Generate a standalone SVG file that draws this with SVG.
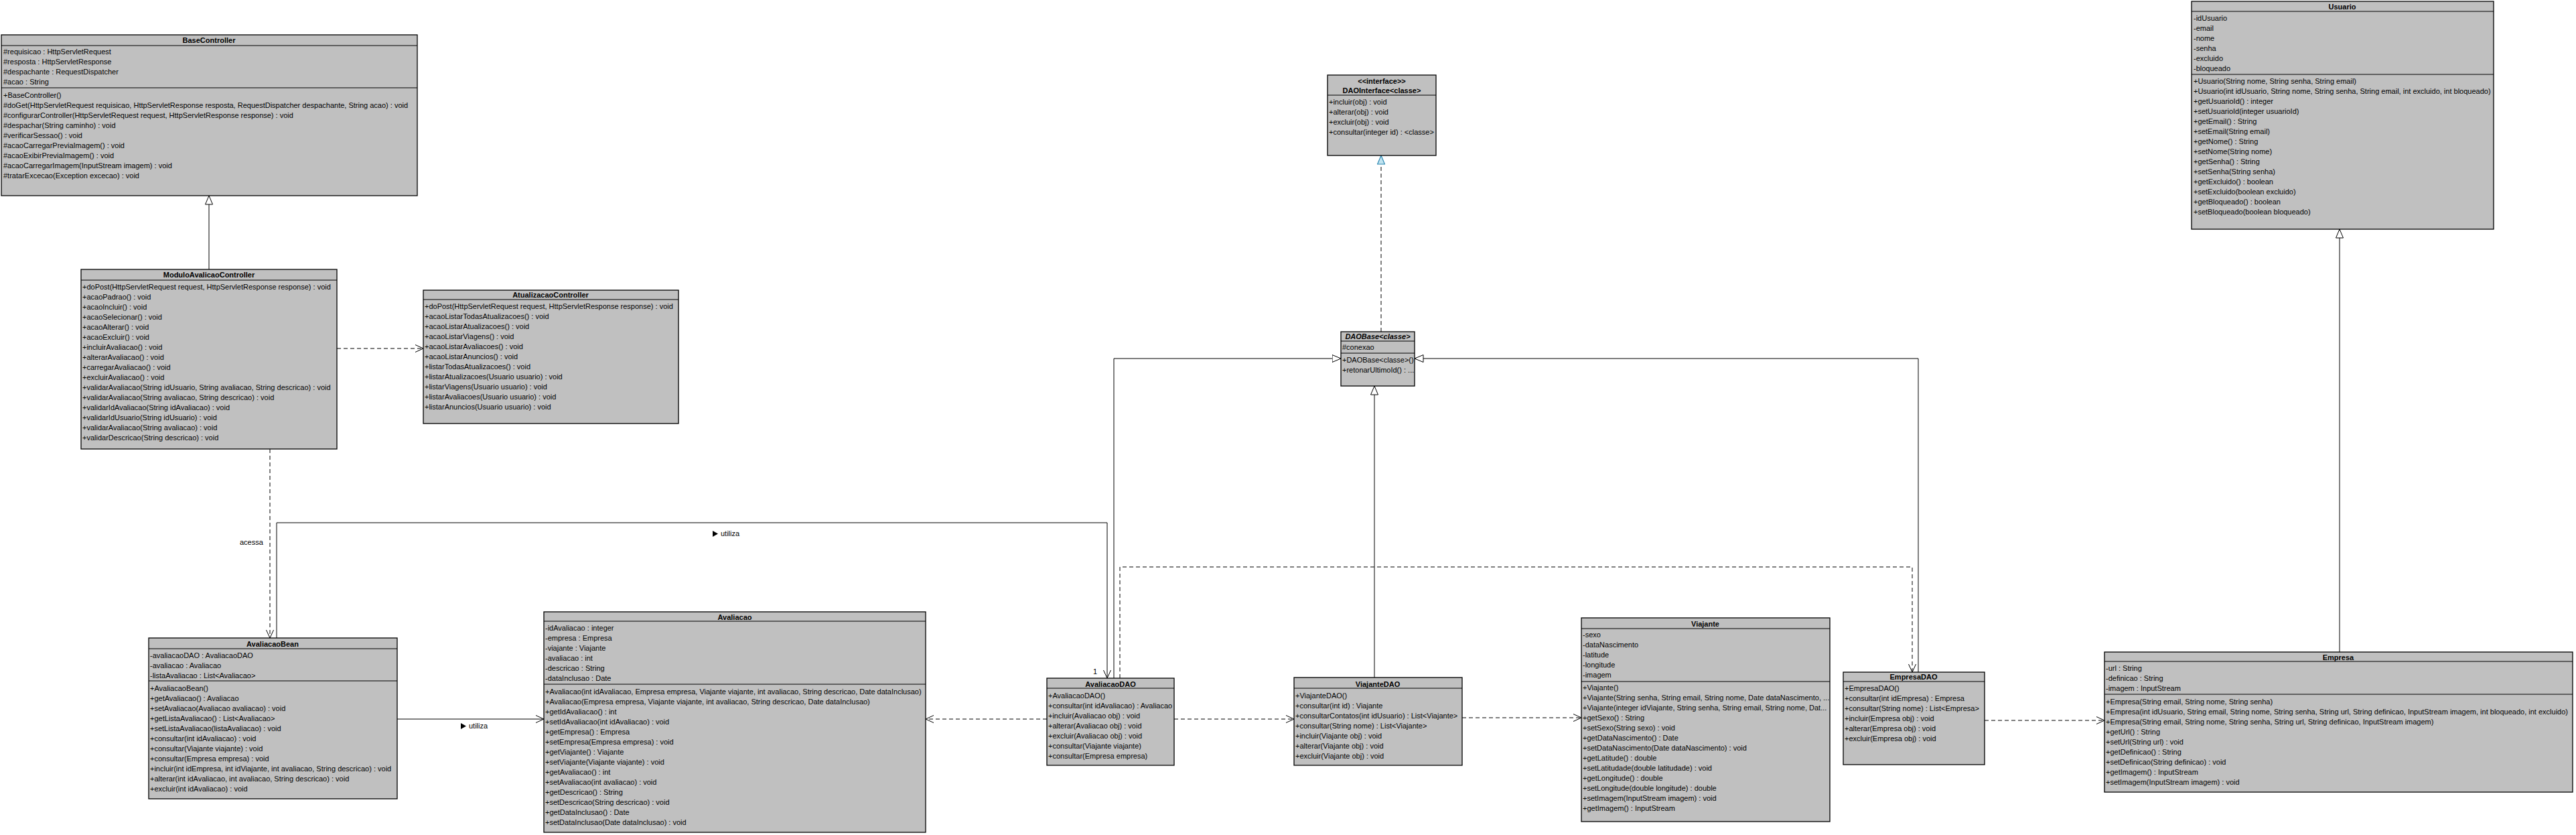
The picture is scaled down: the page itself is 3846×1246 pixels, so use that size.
<svg xmlns="http://www.w3.org/2000/svg" width="3846" height="1246" viewBox="0 0 3846 1246">
<style>
.box{fill:#C0C0C0;stroke:#000;stroke-width:1.3}
.sep{stroke:#000;stroke-width:1.2;fill:none}
text{font-family:"Liberation Sans",Arial,sans-serif;font-size:11px;fill:#000}
.ti{font-weight:bold;text-anchor:middle}
.it{font-style:italic}
.ln{stroke:#000;stroke-width:1;fill:none}
.da{stroke-dasharray:6 4}
</style>
<defs>
<marker id="open" viewBox="0 0 12 12" refX="12" refY="6" markerWidth="12" markerHeight="12" markerUnits="userSpaceOnUse" orient="auto"><path d="M0,0.5 L12,6 L0,11.5" fill="none" stroke="#000" stroke-width="1"/></marker>
<marker id="tri" viewBox="0 0 14 12" refX="13.5" refY="6" markerWidth="14" markerHeight="12" markerUnits="userSpaceOnUse" orient="auto"><path d="M0.5,0.5 L13.5,6 L0.5,11.5 Z" fill="#fff" stroke="#000" stroke-width="1"/></marker>
<marker id="real" viewBox="0 0 14 12" refX="13.5" refY="6" markerWidth="14" markerHeight="12" markerUnits="userSpaceOnUse" orient="auto"><path d="M0.5,0.5 L13.5,6 L0.5,11.5 Z" fill="#BFE3F0" stroke="#2A86B0" stroke-width="1.2"/></marker>
</defs>
<rect width="3846" height="1246" fill="#fff"/>

<g id="connectors">
<path class="ln" d="M312,402 V292" marker-end="url(#tri)"/>
<path class="ln da" d="M503,520 H632" marker-end="url(#open)"/>
<path class="ln da" d="M403,670 V952" marker-end="url(#open)"/>
<text x="358" y="813">acessa</text>
<path class="ln" d="M413,952 V780 H1653 V1012" marker-end="url(#open)"/>
<polygon points="1064,792 1072,796.5 1064,801" fill="#000"/>
<text x="1076" y="800">utiliza</text>
<text x="1632" y="1006">1</text>
<path class="ln" d="M593,1073 H812" marker-end="url(#open)"/>
<polygon points="688,1079 696,1083.5 688,1088" fill="#000"/>
<text x="700" y="1087">utiliza</text>
<path class="ln da" d="M1563,1073 H1382" marker-end="url(#open)"/>
<path class="ln da" d="M1753,1073 H1932" marker-end="url(#open)"/>
<path class="ln da" d="M2183,1071 H2361" marker-end="url(#open)"/>
<path class="ln da" d="M2963,1075 H3142" marker-end="url(#open)"/>
<path class="ln" d="M1663,1012 V535 H2002" marker-end="url(#tri)"/>
<path class="ln" d="M2052,1011 V576" marker-end="url(#tri)"/>
<path class="ln" d="M2864,1003 V535 H2112" marker-end="url(#tri)"/>
<path class="ln da" d="M2062,495 V232" marker-end="url(#real)"/>
<path class="ln" d="M3493,973 V342" marker-end="url(#tri)"/>
<path class="ln da" d="M1672,1012 V846 H2855 V1003" marker-end="url(#open)"/>
</g>

<g id="BaseController">
<rect class="box" x="2" y="52" width="621" height="240"/>
<path class="sep" d="M2,68 H623 M2,131 H623"/>
<text class="ti" x="312" y="64">BaseController</text>
<text x="5" y="81">#requisicao : HttpServletRequest</text>
<text x="5" y="96">#resposta : HttpServletResponse</text>
<text x="5" y="111">#despachante : RequestDispatcher</text>
<text x="5" y="126">#acao : String</text>
<text x="5" y="146">+BaseController()</text>
<text x="5" y="161">#doGet(HttpServletRequest requisicao, HttpServletResponse resposta, RequestDispatcher despachante, String acao) : void</text>
<text x="5" y="176">#configurarController(HttpServletRequest request, HttpServletResponse response) : void</text>
<text x="5" y="191">#despachar(String caminho) : void</text>
<text x="5" y="206">#verificarSessao() : void</text>
<text x="5" y="221">#acaoCarregarPreviaImagem() : void</text>
<text x="5" y="236">#acaoExibirPreviaImagem() : void</text>
<text x="5" y="251">#acaoCarregarImagem(InputStream imagem) : void</text>
<text x="5" y="266">#tratarExcecao(Exception excecao) : void</text>
</g>

<g id="Usuario">
<rect class="box" x="3272" y="2" width="451" height="340"/>
<path class="sep" d="M3272,17 H3723 M3272,111 H3723"/>
<text class="ti" x="3497" y="14">Usuario</text>
<text x="3275" y="31">-idUsuario</text>
<text x="3275" y="46">-email</text>
<text x="3275" y="61">-nome</text>
<text x="3275" y="76">-senha</text>
<text x="3275" y="91">-excluido</text>
<text x="3275" y="106">-bloqueado</text>
<text x="3275" y="125">+Usuario(String nome, String senha, String email)</text>
<text x="3275" y="140">+Usuario(int idUsuario, String nome, String senha, String email, int excluido, int bloqueado)</text>
<text x="3275" y="155">+getUsuarioId() : integer</text>
<text x="3275" y="170">+setUsuarioId(integer usuarioId)</text>
<text x="3275" y="185">+getEmail() : String</text>
<text x="3275" y="200">+setEmail(String email)</text>
<text x="3275" y="215">+getNome() : String</text>
<text x="3275" y="230">+setNome(String nome)</text>
<text x="3275" y="245">+getSenha() : String</text>
<text x="3275" y="260">+setSenha(String senha)</text>
<text x="3275" y="275">+getExcluido() : boolean</text>
<text x="3275" y="290">+setExcluido(boolean excluido)</text>
<text x="3275" y="305">+getBloqueado() : boolean</text>
<text x="3275" y="320">+setBloqueado(boolean bloqueado)</text>
</g>

<g id="DAOInterface">
<rect class="box" x="1982" y="112" width="162" height="120"/>
<path class="sep" d="M1982,142 H2144"/>
<text class="ti" x="2063" y="125">&lt;&lt;interface&gt;&gt;</text>
<text class="ti" x="2063" y="139">DAOInterface&lt;classe&gt;</text>
<text x="1984" y="156">+incluir(obj) : void</text>
<text x="1984" y="171">+alterar(obj) : void</text>
<text x="1984" y="186">+excluir(obj) : void</text>
<text x="1984" y="201">+consultar(integer id) : &lt;classe&gt;</text>
</g>

<g id="ModuloAvalicaoController">
<rect class="box" x="121" y="402" width="382" height="268"/>
<path class="sep" d="M121,418 H503"/>
<text class="ti" x="312" y="414">ModuloAvalicaoController</text>
<text x="123" y="432">+doPost(HttpServletRequest request, HttpServletResponse response) : void</text>
<text x="123" y="447">+acaoPadrao() : void</text>
<text x="123" y="462">+acaoIncluir() : void</text>
<text x="123" y="477">+acaoSelecionar() : void</text>
<text x="123" y="492">+acaoAlterar() : void</text>
<text x="123" y="507">+acaoExcluir() : void</text>
<text x="123" y="522">+incluirAvaliacao() : void</text>
<text x="123" y="537">+alterarAvaliacao() : void</text>
<text x="123" y="552">+carregarAvaliacao() : void</text>
<text x="123" y="567">+excluirAvaliacao() : void</text>
<text x="123" y="582">+validarAvaliacao(String idUsuario, String avaliacao, String descricao) : void</text>
<text x="123" y="597">+validarAvaliacao(String avaliacao, String descricao) : void</text>
<text x="123" y="612">+validarIdAvaliacao(String idAvaliacao) : void</text>
<text x="123" y="627">+validarIdUsuario(String idUsuario) : void</text>
<text x="123" y="642">+validarAvaliacao(String avaliacao) : void</text>
<text x="123" y="657">+validarDescricao(String descricao) : void</text>
</g>

<g id="AtualizacaoController">
<rect class="box" x="632" y="433" width="381" height="199"/>
<path class="sep" d="M632,447 H1013"/>
<text class="ti" x="822" y="444">AtualizacaoController</text>
<text x="634" y="461">+doPost(HttpServletRequest request, HttpServletResponse response) : void</text>
<text x="634" y="476">+acaoListarTodasAtualizacoes() : void</text>
<text x="634" y="491">+acaoListarAtualizacoes() : void</text>
<text x="634" y="506">+acaoListarViagens() : void</text>
<text x="634" y="521">+acaoListarAvaliacoes() : void</text>
<text x="634" y="536">+acaoListarAnuncios() : void</text>
<text x="634" y="551">+listarTodasAtualizacoes() : void</text>
<text x="634" y="566">+listarAtualizacoes(Usuario usuario) : void</text>
<text x="634" y="581">+listarViagens(Usuario usuario) : void</text>
<text x="634" y="596">+listarAvaliacoes(Usuario usuario) : void</text>
<text x="634" y="611">+listarAnuncios(Usuario usuario) : void</text>
</g>

<g id="DAOBase">
<rect class="box" x="2002" y="495" width="110" height="81"/>
<path class="sep" d="M2002,509 H2112 M2002,527 H2112"/>
<text class="ti it" x="2057" y="506">DAOBase&lt;classe&gt;</text>
<text x="2004" y="522">#conexao</text>
<text x="2004" y="541">+DAOBase&lt;classe&gt;()</text>
<text x="2004" y="556">+retonarUltimoId() : ...</text>
</g>

<g id="AvaliacaoBean">
<rect class="box" x="222" y="952" width="371" height="240"/>
<path class="sep" d="M222,968 H593 M222,1016 H593"/>
<text class="ti" x="407" y="965">AvaliacaoBean</text>
<text x="224" y="982">-avaliacaoDAO : AvaliacaoDAO</text>
<text x="224" y="997">-avaliacao : Avaliacao</text>
<text x="224" y="1012">-listaAvaliacao : List&lt;Avaliacao&gt;</text>
<text x="224" y="1031">+AvaliacaoBean()</text>
<text x="224" y="1046">+getAvaliacao() : Avaliacao</text>
<text x="224" y="1061">+setAvaliacao(Avaliacao avaliacao) : void</text>
<text x="224" y="1076">+getListaAvaliacao() : List&lt;Avaliacao&gt;</text>
<text x="224" y="1091">+setListaAvaliacao(listaAvaliacao) : void</text>
<text x="224" y="1106">+consultar(int idAvaliacao) : void</text>
<text x="224" y="1121">+consultar(Viajante viajante) : void</text>
<text x="224" y="1136">+consultar(Empresa empresa) : void</text>
<text x="224" y="1151">+incluir(int idEmpresa, int idViajante, int avaliacao, String descricao) : void</text>
<text x="224" y="1166">+alterar(int idAvaliacao, int avaliacao, String descricao) : void</text>
<text x="224" y="1181">+excluir(int idAvaliacao) : void</text>
</g>

<g id="Avaliacao">
<rect class="box" x="812" y="913" width="570" height="329"/>
<path class="sep" d="M812,927 H1382 M812,1021 H1382"/>
<text class="ti" x="1097" y="925">Avaliacao</text>
<text x="814" y="941">-idAvaliacao : integer</text>
<text x="814" y="956">-empresa : Empresa</text>
<text x="814" y="971">-viajante : Viajante</text>
<text x="814" y="986">-avaliacao : int</text>
<text x="814" y="1001">-descricao : String</text>
<text x="814" y="1016">-dataInclusao : Date</text>
<text x="814" y="1036">+Avaliacao(int idAvaliacao, Empresa empresa, Viajante viajante, int avaliacao, String descricao, Date dataInclusao)</text>
<text x="814" y="1051">+Avaliacao(Empresa empresa, Viajante viajante, int avaliacao, String descricao, Date dataInclusao)</text>
<text x="814" y="1066">+getIdAvaliacao() : int</text>
<text x="814" y="1081">+setIdAvaliacao(int idAvaliacao) : void</text>
<text x="814" y="1096">+getEmpresa() : Empresa</text>
<text x="814" y="1111">+setEmpresa(Empresa empresa) : void</text>
<text x="814" y="1126">+getViajante() : Viajante</text>
<text x="814" y="1141">+setViajante(Viajante viajante) : void</text>
<text x="814" y="1156">+getAvaliacao() : int</text>
<text x="814" y="1171">+setAvaliacao(int avaliacao) : void</text>
<text x="814" y="1186">+getDescricao() : String</text>
<text x="814" y="1201">+setDescricao(String descricao) : void</text>
<text x="814" y="1216">+getDataInclusao() : Date</text>
<text x="814" y="1231">+setDataInclusao(Date dataInclusao) : void</text>
</g>

<g id="AvaliacaoDAO">
<rect class="box" x="1563" y="1012" width="190" height="130"/>
<path class="sep" d="M1563,1027 H1753"/>
<text class="ti" x="1658" y="1025">AvaliacaoDAO</text>
<text x="1565" y="1042">+AvaliacaoDAO()</text>
<text x="1565" y="1057">+consultar(int idAvaliacao) : Avaliacao</text>
<text x="1565" y="1072">+incluir(Avaliacao obj) : void</text>
<text x="1565" y="1087">+alterar(Avaliacao obj) : void</text>
<text x="1565" y="1102">+excluir(Avaliacao obj) : void</text>
<text x="1565" y="1117">+consultar(Viajante viajante)</text>
<text x="1565" y="1132">+consultar(Empresa empresa)</text>
</g>

<g id="ViajanteDAO">
<rect class="box" x="1932" y="1011" width="251" height="131"/>
<path class="sep" d="M1932,1027 H2183"/>
<text class="ti" x="2057" y="1025">ViajanteDAO</text>
<text x="1934" y="1042">+ViajanteDAO()</text>
<text x="1934" y="1057">+consultar(int id) : Viajante</text>
<text x="1934" y="1072">+consultarContatos(int idUsuario) : List&lt;Viajante&gt;</text>
<text x="1934" y="1087">+consultar(String nome) : List&lt;Viajante&gt;</text>
<text x="1934" y="1102">+incluir(Viajante obj) : void</text>
<text x="1934" y="1117">+alterar(Viajante obj) : void</text>
<text x="1934" y="1132">+excluir(Viajante obj) : void</text>
</g>

<g id="Viajante">
<rect class="box" x="2361" y="922" width="371" height="304"/>
<path class="sep" d="M2361,938 H2732 M2361,1017 H2732"/>
<text class="ti" x="2546" y="935">Viajante</text>
<text x="2363" y="951">-sexo</text>
<text x="2363" y="966">-dataNascimento</text>
<text x="2363" y="981">-latitude</text>
<text x="2363" y="996">-longitude</text>
<text x="2363" y="1011">-imagem</text>
<text x="2363" y="1030">+Viajante()</text>
<text x="2363" y="1045">+Viajante(String senha, String email, String nome, Date dataNascimento, ...</text>
<text x="2363" y="1060">+Viajante(integer idViajante, String senha, String email, String nome, Dat...</text>
<text x="2363" y="1075">+getSexo() : String</text>
<text x="2363" y="1090">+setSexo(String sexo) : void</text>
<text x="2363" y="1105">+getDataNascimento() : Date</text>
<text x="2363" y="1120">+setDataNascimento(Date dataNascimento) : void</text>
<text x="2363" y="1135">+getLatitude() : double</text>
<text x="2363" y="1150">+setLatitudade(double latitudade) : void</text>
<text x="2363" y="1165">+getLongitude() : double</text>
<text x="2363" y="1180">+setLongitude(double longitude) : double</text>
<text x="2363" y="1195">+setImagem(InputStream imagem) : void</text>
<text x="2363" y="1210">+getImagem() : InputStream</text>
</g>

<g id="EmpresaDAO">
<rect class="box" x="2752" y="1003" width="211" height="138"/>
<path class="sep" d="M2752,1017 H2963"/>
<text class="ti" x="2857" y="1014">EmpresaDAO</text>
<text x="2754" y="1031">+EmpresaDAO()</text>
<text x="2754" y="1046">+consultar(int idEmpresa) : Empresa</text>
<text x="2754" y="1061">+consultar(String nome) : List&lt;Empresa&gt;</text>
<text x="2754" y="1076">+incluir(Empresa obj) : void</text>
<text x="2754" y="1091">+alterar(Empresa obj) : void</text>
<text x="2754" y="1106">+excluir(Empresa obj) : void</text>
</g>

<g id="Empresa">
<rect class="box" x="3142" y="973" width="699" height="209"/>
<path class="sep" d="M3142,987 H3841 M3142,1036 H3841"/>
<text class="ti" x="3491" y="985">Empresa</text>
<text x="3144" y="1001">-url : String</text>
<text x="3144" y="1016">-definicao : String</text>
<text x="3144" y="1031">-imagem : InputStream</text>
<text x="3144" y="1051">+Empresa(String email, String nome, String senha)</text>
<text x="3144" y="1066">+Empresa(int idUsuario, String email, String nome, String senha, String url, String definicao, InputStream imagem, int bloqueado, int excluido)</text>
<text x="3144" y="1081">+Empresa(String email, String nome, String senha, String url, String definicao, InputStream imagem)</text>
<text x="3144" y="1096">+getUrl() : String</text>
<text x="3144" y="1111">+setUrl(String url) : void</text>
<text x="3144" y="1126">+getDefinicao() : String</text>
<text x="3144" y="1141">+setDefinicao(String definicao) : void</text>
<text x="3144" y="1156">+getImagem() : InputStream</text>
<text x="3144" y="1171">+setImagem(InputStream imagem) : void</text>
</g>
</svg>
